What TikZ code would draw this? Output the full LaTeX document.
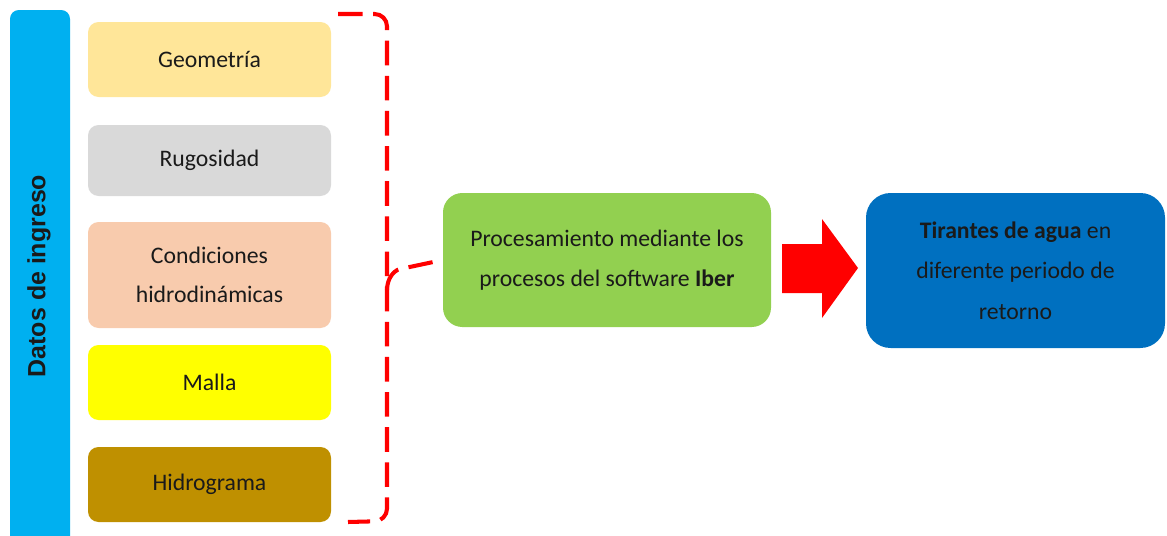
\documentclass[tikz,border=0pt]{standalone}
\usepackage{fontspec}
\setmainfont{Carlito}
\newfontfamily\arialf{Liberation Sans}
\definecolor{cblue}{HTML}{00B0F0}
\definecolor{cgeo}{HTML}{FFE699}
\definecolor{crug}{HTML}{D9D9D9}
\definecolor{ccon}{HTML}{F8CBAD}
\definecolor{cmal}{HTML}{FFFF00}
\definecolor{chid}{HTML}{BF9000}
\definecolor{cgreen}{HTML}{92D050}
\definecolor{cdblue}{HTML}{0070C0}
\definecolor{ctext}{HTML}{1A1A1A}
\begin{document}
\begin{tikzpicture}[x=0.02cm,y=-0.02cm,
  inbox/.style={rectangle,rounded corners=6pt,minimum width=243*0.02cm,align=center,
     font=\fontsize{13.5}{22.5}\selectfont,text=ctext,inner sep=0pt},
  bracket/.style={draw=red,line width=2.3pt,dash pattern=on 14pt off 6pt,rounded corners=7pt}]
\useasboundingbox (0,0) rectangle (1167,535);
% left bar
\fill[cblue,rounded corners=5pt] (10,10) rectangle (70,545);
\node[rotate=90,font=\arialf\bfseries\fontsize{14.2}{16}\selectfont,text=ctext] (datos) at (39,276) {Datos de ingreso};
% input boxes
\node[inbox,fill=cgeo,minimum height=75*0.02cm] (geo) at (209.5,59.5) {Geometría};
\node[inbox,fill=crug,minimum height=71*0.02cm] (rug) at (209.5,160.5) {Rugosidad};
\node[inbox,fill=ccon,minimum height=106*0.02cm] (con) at (209.5,275) {Condiciones\\hidrodinámicas};
\node[inbox,fill=cmal,minimum height=75*0.02cm] (mal) at (209.5,382.5) {Malla};
\node[inbox,fill=chid,minimum height=75*0.02cm] (hid) at (209.5,484.5) {Hidrograma};
% processing
\node[inbox,fill=cgreen,minimum width=328*0.02cm,minimum height=134*0.02cm,rounded corners=11pt] (proc) at (607,260)
  {Procesamiento mediante los\\procesos del software \textbf{Iber}};
% result
\node[inbox,fill=cdblue,minimum width=299*0.02cm,minimum height=155*0.02cm,rounded corners=14pt,
  font=\fontsize{13.5}{23}\selectfont] (res) at (1015.5,270.5)
  {\textbf{Tirantes de agua} en\\diferente periodo de\\retorno};
% arrow
\fill[red] (782,244) -- (822,244) -- (822,219) -- (858,268) -- (822,318) -- (822,293) -- (782,293) -- cycle;
% bracket
\coordinate (b1) at (338,14);
\coordinate (b2) at (387,14);
\coordinate (b3) at (387,521);
\coordinate (b4) at (348,522);
\draw[bracket] (b1) -- (b2) -- (b3) -- (b4);
\coordinate (bm) at (387,290);
\draw[bracket,rounded corners=0pt] (bm) to[out=90,in=180] (405,268) -- (proc.west);
\end{tikzpicture}
\end{document}
